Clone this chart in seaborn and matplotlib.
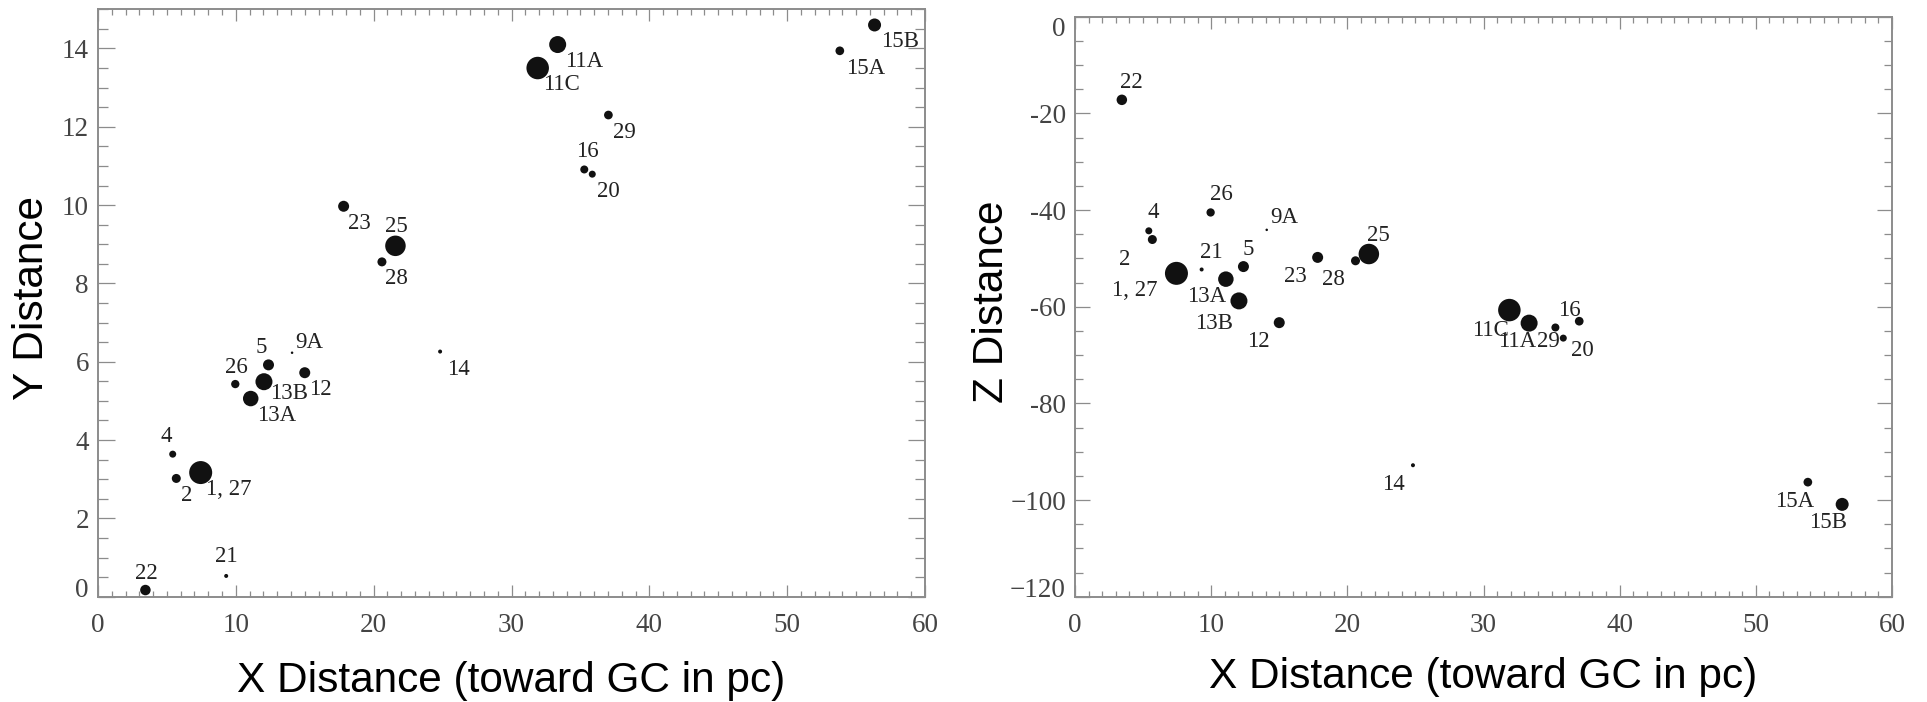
import numpy as np
import pandas as pd
import seaborn as sns
import matplotlib.pyplot as plt
from matplotlib.ticker import MultipleLocator

# Cluster identifiers and positions (pc)
names = ['1, 27', '2', '4', '5', '9A', '11A', '11C', '12', '13A', '13B', '14',
         '15A', '15B', '16', '20', '21', '22', '23', '25', '26', '28', '29']
x_dist = [7.45, 5.68, 5.42, 12.37, 14.08, 33.35, 31.9, 15.0, 11.08, 12.04, 24.82,
          53.82, 56.34, 35.28, 35.86, 9.3, 3.44, 17.82, 21.58, 9.96, 20.6, 37.03]
y_dist = [3.17, 3.02, 3.64, 5.92, 6.23, 14.1, 13.5, 5.72, 5.06, 5.49, 6.26,
          13.94, 14.6, 10.91, 10.79, 0.53, 0.17, 9.97, 8.96, 5.43, 8.55, 12.3]
z_dist = [-53.1, -46.1, -44.3, -51.7, -44.1, -63.4, -60.7, -63.3, -54.3, -58.8, -92.8,
          -96.3, -100.9, -64.3, -66.5, -52.3, -17.2, -49.8, -49.1, -40.5, -50.5, -63.0]
# relative cluster size (symbol diameter)
cluster_size = [23, 9, 7, 11, 2.5, 17, 22.5, 11, 15.5, 17, 4,
                8.7, 13, 8, 7, 4, 10.5, 11, 20.5, 8.3, 9, 8.7]

ytick_z = [-120, -100, -80, -60, -40, -20, 0]
ytick_z_labels = ['\u2212120', '\u2212100', '-80', '-60', '-40', '-20', '0']

df = pd.DataFrame({'name': names, 'x': x_dist, 'y': y_dist, 'z': z_dist,
                   'size': cluster_size})

# label placement (pixel offsets from each symbol, screen-down positive)
off_xy = {'1, 27': (28, 17), '2': (10, 17), '4': (-6, -18), '5': (-7, -17),
          '9A': (17, -10), '11A': (26, 17), '11C': (24, 16), '12': (16, 17),
          '13A': (26, 17), '13B': (25, 12), '14': (18, 18), '15A': (26, 18),
          '15B': (25, 17), '16': (3, -18), '20': (16, 17), '21': (0, -19),
          '22': (1, -17), '23': (16, 17), '25': (1, -19), '26': (1, -17),
          '28': (15, 17), '29': (16, 17)}
off_xz = {'1, 27': (-42, 17), '2': (-28, 20), '4': (4, -18), '5': (5, -17),
          '9A': (18, -12), '11A': (-12, 18), '11C': (-19, 20), '12': (-21, 19),
          '13A': (-19, 17), '13B': (-25, 23), '14': (-20, 19), '15A': (-13, 19),
          '15B': (-14, 18), '16': (14, -17), '20': (19, 12), '21': (10, -17),
          '22': (10, -17), '23': (-22, 19), '25': (10, -19), '26': (11, -18),
          '28': (-22, 19), '29': (-31, 20)}

DPI = 100
sns.set_theme(style='white')
plt.rcParams['font.family'] = ['Liberation Serif', 'DejaVu Serif']
plt.rcParams['axes.unicode_minus'] = False

fig = plt.figure(figsize=(19.27, 7.02), dpi=DPI)
ax1 = fig.add_axes([98 / 1927, 1 - 596.7 / 702, 827 / 1927, 587.4 / 702])
ax2 = fig.add_axes([1075 / 1927, 1 - 596.7 / 702, 817 / 1927, 580 / 702])

area = (df['size'] * 72 / DPI) ** 2
spine_c = '#8c8c8c'
tick_lab_c = '#444444'
lab_c = '#222222'


def style_axes(ax, ymaj, ymin, ylen):
    for sp in ax.spines.values():
        sp.set_visible(True)
        sp.set_color(spine_c)
        sp.set_linewidth(1.4)
    ax.xaxis.set_major_locator(MultipleLocator(10))
    ax.xaxis.set_minor_locator(MultipleLocator(1))
    ax.yaxis.set_major_locator(MultipleLocator(ymaj))
    ax.yaxis.set_minor_locator(MultipleLocator(ymin))
    ax.tick_params(which='both', direction='in', top=True, right=True,
                   bottom=True, left=True, color=spine_c, width=0.9,
                   labelcolor=tick_lab_c, labelsize=19.5)
    ax.tick_params(axis='x', which='major', length=8.5, pad=11.5)
    ax.tick_params(axis='x', which='minor', length=4.5)
    ax.tick_params(axis='y', which='major', length=ylen[0], pad=6.5)
    ax.tick_params(axis='y', which='minor', length=ylen[1])
    ax.grid(False)


def draw_panel(ax, ycol, offsets):
    sns.scatterplot(data=df, x='x', y=ycol, s=area, color='#111111',
                    edgecolor='none', linewidth=0, legend=False, ax=ax, zorder=3)
    for _, r in df.iterrows():
        dx, dy = offsets[r['name']]
        ax.annotate(r['name'], (r['x'], r[ycol]), xytext=(dx, -dy),
                    textcoords='offset pixels', ha='center', va='center',
                    fontsize=16.5, color=lab_c)


# X-Y panel
draw_panel(ax1, 'y', off_xy)
ax1.set_xlim(0, 60)
ax1.set_ylim(0, 15)
style_axes(ax1, 2, 0.5, (12, 7))
ax1.set_xticks([0, 10, 20, 30, 40, 50, 60])
ax1.set_yticks([0, 2, 4, 6, 8, 10, 12, 14])

# X-Z panel
draw_panel(ax2, 'z', off_xz)
ax2.set_xlim(0, 60)
ax2.set_ylim(-120, 0)
style_axes(ax2, 20, 5, (11, 6))
ax2.set_xticks([0, 10, 20, 30, 40, 50, 60])
ax2.set_yticks(ytick_z)
ax2.set_yticklabels(ytick_z_labels)

lab_font = dict(family=['Liberation Sans', 'DejaVu Sans'], size=30.5, color='black')
ax1.set_xlabel('X Distance (toward GC in pc)', **lab_font)
ax1.set_ylabel('Y Distance', **lab_font)
ax2.set_xlabel('X Distance (toward GC in pc)', **lab_font)
ax2.set_ylabel('Z Distance', **lab_font)
for ax, yx, xy in ((ax1, -0.0669, -0.1617), (ax2, -0.0878, -0.158)):
    ax.xaxis.set_label_coords(0.5, xy)
    ax.xaxis.label.set_va('baseline')
    ax.yaxis.set_label_coords(yx, 0.509)
    ax.yaxis.label.set_va('baseline')

# keep end tick labels inside the frame
fig.canvas.draw()
ax1.get_yticklabels()[0].set_va('baseline')
ax2.get_yticklabels()[0].set_va('baseline')
ax2.get_yticklabels()[-1].set_va('top')

fig.savefig('out.png', dpi=DPI, facecolor='white')
